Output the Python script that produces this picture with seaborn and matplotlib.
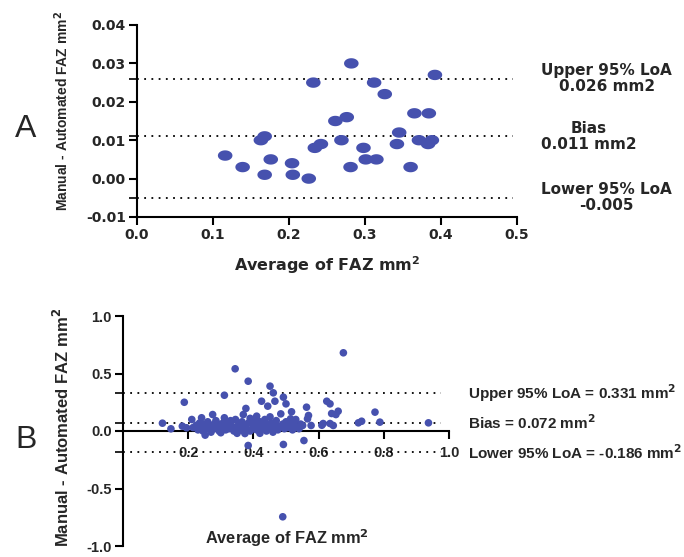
import numpy as np
import matplotlib
matplotlib.use("Agg")
import matplotlib.pyplot as plt
from matplotlib.path import Path
from matplotlib.ticker import FormatStrFormatter
import seaborn as sns

# ---------------- Panel A: Bland-Altman, small cohort ----------------
a_mean = [0.116, 0.139, 0.163, 0.168, 0.168, 0.176, 0.204, 0.205, 0.226, 0.232,
          0.234, 0.242, 0.261, 0.269, 0.276, 0.282, 0.281, 0.298, 0.301, 0.312,
          0.315, 0.326, 0.342, 0.345, 0.360, 0.365, 0.371, 0.384, 0.383, 0.388,
          0.392]
a_diff = [0.006, 0.003, 0.010, 0.011, 0.001, 0.005, 0.004, 0.001, 0.000, 0.025,
          0.008, 0.009, 0.015, 0.010, 0.016, 0.030, 0.003, 0.008, 0.005, 0.025,
          0.005, 0.022, 0.009, 0.012, 0.003, 0.017, 0.010, 0.017, 0.009, 0.010,
          0.027]
a_upper, a_bias, a_lower = 0.026, 0.011, -0.005
a_xticks = [0.0, 0.1, 0.2, 0.3, 0.4, 0.5]
a_yticks = [-0.01, 0.00, 0.01, 0.02, 0.03, 0.04]

# ---------------- Panel B: Bland-Altman, large cohort ----------------
b_mean = [0.676, 0.344, 0.384, 0.451, 0.461, 0.311, 0.492, 0.188, 0.425, 0.466,
          0.500, 0.444, 0.625, 0.635, 0.377, 0.563, 0.517, 0.660, 0.773, 0.640,
          0.653, 0.275, 0.484, 0.369, 0.569, 0.566, 0.514, 0.530, 0.241, 0.211,
          0.311, 0.410, 0.451, 0.732, 0.722, 0.788, 0.937, 0.121, 0.147, 0.614,
          0.635, 0.645, 0.577, 0.551, 0.252, 0.374, 0.384, 0.492, 0.555, 0.490,
          0.610, 0.182, 0.195, 0.245, 0.405,
          0.215, 0.225, 0.230, 0.235, 0.240, 0.245, 0.250, 0.255, 0.260, 0.265,
          0.270, 0.275, 0.280, 0.285, 0.290, 0.295, 0.300, 0.305, 0.310, 0.315,
          0.320, 0.325, 0.330, 0.335, 0.340, 0.345, 0.350, 0.355, 0.360, 0.365,
          0.370, 0.375, 0.380, 0.385, 0.390, 0.395, 0.400, 0.405, 0.410, 0.415,
          0.420, 0.425, 0.430, 0.435, 0.440, 0.445, 0.450, 0.455, 0.460, 0.465,
          0.470, 0.475, 0.480, 0.490, 0.495, 0.500, 0.505, 0.510, 0.520, 0.525,
          0.530, 0.540, 0.545, 0.350, 0.420, 0.300, 0.460, 0.390, 0.330, 0.280,
          0.410, 0.370, 0.430, 0.360, 0.400]
b_diff = [0.680, 0.541, 0.433, 0.390, 0.332, 0.311, 0.294, 0.250, 0.259, 0.259,
          0.236, 0.216, 0.259, 0.236, 0.196, 0.207, 0.167, 0.172, 0.164, 0.152,
          0.143, 0.143, 0.149, 0.143, 0.135, 0.106, 0.106, 0.100, 0.115, 0.100,
          0.115, 0.129, 0.123, 0.085, 0.071, 0.077, 0.071, 0.068, 0.019, 0.065,
          0.065, 0.048, 0.048, 0.048, -0.036, -0.022, -0.126, -0.117, -0.083, -0.746,
          0.050, 0.042, 0.028, 0.020, 0.019,
          0.030, 0.050, 0.010, 0.070, 0.040, 0.000, 0.060, 0.020, 0.080, 0.030,
          -0.010, 0.050, 0.020, 0.090, 0.040, 0.000, 0.060, 0.030, 0.080, 0.010,
          0.050, 0.020, 0.070, 0.040, 0.000, 0.100, 0.030, 0.060, 0.010, 0.080,
          0.040, 0.050, 0.020, 0.070, 0.000, 0.090, 0.030, 0.060, 0.010, 0.050,
          0.080, 0.020, 0.040, 0.100, 0.000, 0.060, 0.030, 0.070, 0.020, 0.050,
          0.090, 0.010, 0.040, 0.060, 0.020, 0.080, 0.030, 0.050, 0.010, 0.070,
          0.040, 0.020, 0.060, -0.020, -0.020, -0.015, -0.010, 0.110, 0.090, 0.060,
          0.100, 0.000, 0.060, 0.050, 0.070]
b_upper, b_bias, b_lower = 0.331, 0.072, -0.186
b_xticks = [0.2, 0.4, 0.6, 0.8, 1.0]
b_yticks = [-1.0, -0.5, 0.0, 0.5, 1.0]

sns.set_theme(style="white")
plt.rcParams["font.family"] = ["Liberation Sans", "DejaVu Sans"]
plt.rcParams["axes.unicode_minus"] = False

DOT = "#4651AE"
AXW = 1.5
dotted = (0, (1, 3))

fig = plt.figure(figsize=(6.84, 5.57), dpi=100)

# ---------- Panel A ----------
axA = fig.add_axes([137 / 684, 340 / 557, 380 / 684, 192 / 557])
t = np.linspace(0, 2 * np.pi, 60)
ellipse = Path(np.column_stack([1.4 * np.cos(t), np.sin(t)]), closed=True)
sns.scatterplot(x=a_mean, y=a_diff, ax=axA, marker=ellipse, s=110,
                color=DOT, edgecolor="none", linewidth=0, zorder=3)
for v in (a_upper, a_bias, a_lower):
    axA.hlines(v, 0.0, 0.495, colors="black", linestyles=dotted, lw=1.3, zorder=2)
axA.set_xlim(0, 0.5)
axA.set_ylim(-0.01, 0.04)
axA.set_xticks(a_xticks)
axA.set_yticks(a_yticks)
axA.set_yticks([a_lower, a_bias, a_upper], minor=True)
axA.xaxis.set_major_formatter(FormatStrFormatter("%.1f"))
axA.yaxis.set_major_formatter(FormatStrFormatter("%.2f"))
for s in ("top", "right"):
    axA.spines[s].set_visible(False)
for s in ("left", "bottom"):
    axA.spines[s].set_linewidth(AXW)
    axA.spines[s].set_color("black")
axA.tick_params(axis="both", which="major", direction="out", length=6, width=AXW,
                color="black", pad=2, labelsize=10, left=True, bottom=True)
axA.tick_params(axis="y", which="minor", direction="out", length=6, width=1.2,
                color="black", left=True)
for lab in axA.get_xticklabels() + axA.get_yticklabels():
    lab.set_fontfamily("DejaVu Sans")
    lab.set_fontweight("bold")
axA.set_xlabel("Average of FAZ mm$^{\\mathbf{2}}$", fontfamily="DejaVu Sans",
               fontweight="bold", fontsize=11.5)
axA.xaxis.set_label_coords(0.5, -0.25)
axA.xaxis.label.set_va("center")
axA.set_ylabel("Manual - Automated FAZ mm$^{\\mathbf{2}}$", fontweight="bold", fontsize=10)
axA.yaxis.set_label_coords(-0.197, 0.55)
axA.yaxis.label.set_va("center")

ann_kw = dict(fontfamily="DejaVu Sans", fontweight="bold", fontsize=11,
              va="center", ha="left", multialignment="center", linespacing=1.1,
              clip_on=False)
axA.text(0.532, a_upper, "Upper 95% LoA\n0.026 mm2", **ann_kw)
axA.text(0.532, a_bias, "Bias\n0.011 mm2", **ann_kw)
axA.text(0.532, a_lower, "Lower 95% LoA\n-0.005", **ann_kw)

fig.text(26 / 684, 1 - 129 / 557, "A", fontsize=23, ha="center", va="center",
         fontfamily="Liberation Sans")

# ---------- Panel B ----------
axB = fig.add_axes([123 / 684, 11 / 557, 326 / 684, 230 / 557])
sns.scatterplot(x=b_mean, y=b_diff, ax=axB, s=30, color=DOT,
                edgecolor="none", linewidth=0, zorder=3)
for v in (b_upper, b_bias, b_lower):
    axB.hlines(v, 0.0, 0.975, colors="black", linestyles=dotted, lw=1.3, zorder=2)
axB.set_xlim(0, 1.0)
axB.set_ylim(-1.0, 1.0)
axB.set_xticks(b_xticks)
axB.set_yticks(b_yticks)
axB.set_yticks([b_lower, b_bias, b_upper], minor=True)
axB.xaxis.set_major_formatter(FormatStrFormatter("%.1f"))
axB.yaxis.set_major_formatter(FormatStrFormatter("%.1f"))
for s in ("top", "right"):
    axB.spines[s].set_visible(False)
axB.spines["bottom"].set_position(("data", 0))
for s in ("left", "bottom"):
    axB.spines[s].set_linewidth(AXW)
    axB.spines[s].set_color("black")
axB.tick_params(axis="both", which="major", direction="out", length=6, width=AXW,
                color="black", labelsize=10.5, left=True, bottom=True)
axB.tick_params(axis="y", which="major", pad=2)
axB.tick_params(axis="x", which="major", pad=4.5)
axB.tick_params(axis="y", which="minor", direction="out", length=6, width=1.2,
                color="black", left=True)
for lab in axB.get_xticklabels() + axB.get_yticklabels():
    lab.set_fontweight("bold")
axB.set_ylabel("Manual - Automated FAZ mm$^{\\mathbf{2}}$", fontweight="bold", fontsize=12)
axB.yaxis.set_label_coords(-0.187, 0.517)
axB.yaxis.label.set_va("center")
axB.text(0.503, 0.035, "Average of FAZ mm$^{\\mathbf{2}}$", transform=axB.transAxes,
         ha="center", va="center", fontweight="bold", fontsize=11.8)

annB = dict(fontweight="bold", fontsize=11, va="center", ha="left", clip_on=False)
axB.text(1.058, b_upper, "Upper 95% LoA = 0.331 mm$^{\\mathbf{2}}$", **annB)
axB.text(1.058, b_bias, "Bias = 0.072 mm$^{\\mathbf{2}}$", **annB)
axB.text(1.058, b_lower, "Lower 95% LoA = -0.186 mm$^{\\mathbf{2}}$", **annB)

fig.text(26 / 684, 1 - 440 / 557, "B", fontsize=23, ha="center", va="center",
         fontfamily="Liberation Sans")

fig.savefig("out.png", dpi=100)
